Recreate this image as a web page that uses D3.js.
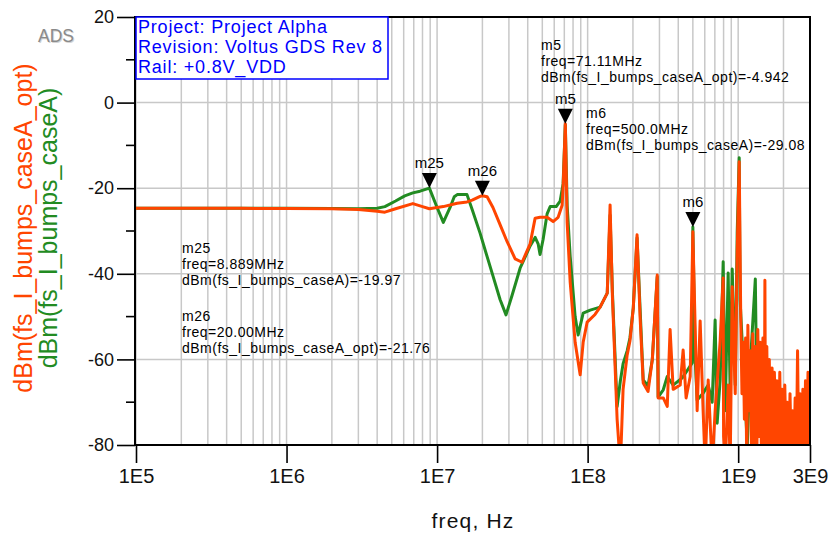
<!DOCTYPE html>
<html>
<head>
<meta charset="utf-8">
<script src="https://cdn.jsdelivr.net/npm/d3@7"></script>
<style>
  body { margin: 0; background: #fff; }
  text { font-family: "Liberation Sans", Arial, sans-serif; }
</style>
</head>
<body>
<div id="chart"></div>
<script>
// axis ticks
const freqTicks = [1e5, 1e6, 1e7, 1e8, 1e9, 3e9];
const freqTickLabels = ["1E5", "1E6", "1E7", "1E8", "1E9", "3E9"];
const dbTicks = [20, 0, -20, -40, -60, -80];
const dbMinorTicks = [10, -10, -30, -50, -70];

const seriesNames = ["fs_I_bumps_caseA", "fs_I_bumps_caseA_opt"];

// [freq Hz, dBm]
const caseA = [
  [1e5, -24.7], [5e5, -24.7], [1e6, -24.7], [2e6, -24.75], [3e6, -24.8], [4e6, -24.7],
  [4.5e6, -24.3], [5.3e6, -23.0], [6.1e6, -21.8], [6.9e6, -21.1], [7.7e6, -20.7], [8.889e6, -19.97],
  [1.0e7, -24.5], [1.1e7, -28.0], [1.22e7, -24.5], [1.3e7, -22.0], [1.36e7, -21.5], [1.58e7, -21.5],
  [1.71e7, -25], [1.93e7, -30.5], [2.15e7, -36], [2.35e7, -40.5], [2.62e7, -46], [2.87e7, -49.6],
  [3.15e7, -45], [3.56e7, -38.7], [4.15e7, -33.5], [4.48e7, -31.5], [4.69e7, -33], [4.83e7, -35.5],
  [5.06e7, -32], [5.38e7, -26], [5.64e7, -24.3], [6.18e7, -24.3], [6.57e7, -23], [6.87e7, -19],
  [7.11e7, -5.2], [7.31e7, -24], [7.66e7, -36], [8.26e7, -50], [8.65e7, -54.3], [9.34e7, -49.2],
  [1.04e8, -48.5], [1.21e8, -47.8], [1.35e8, -44.5], [1.41e8, -26.3], [1.46e8, -44], [1.57e8, -71],
  [1.65e8, -65], [1.72e8, -61], [1.83e8, -58], [1.91e8, -55], [2.01e8, -48], [2.13e8, -31.6],
  [2.23e8, -48], [2.34e8, -64.8], [2.52e8, -66.2], [2.69e8, -60], [2.9e8, -40.7], [2.94e8, -68.8],
  [3.18e8, -67.1], [3.38e8, -64], [3.7e8, -66], [4.25e8, -64.3], [4.51e8, -63], [4.95e8, -60.8],
  [5.0e8, -29.08], [5.18e8, -60], [5.34e8, -69.5], [5.85e8, -67.9], [6.32e8, -66], [6.72e8, -70],
  [7.03e8, -50.8], [7.25e8, -74.9], [7.59e8, -64.8], [7.95e8, -37.2], [8.2e8, -72], [8.58e8, -39.8],
  [8.85e8, -68], [9.13e8, -38.9], [9.56e8, -66], [9.85e8, -30.5], [1.016e9, -12.9], [1.03e9, -46.1],
  [1.08e9, -60.8], [1.15e9, -80], [1.2e9, -62], [1.3e9, -41.2], [1.34e9, -78], [1.4e9, -60],
  [1.44e9, -80], [1.51e9, -62], [1.56e9, -79], [1.63e9, -66], [1.71e9, -80], [1.82e9, -70],
  [1.9e9, -78], [2.05e9, -72], [2.18e9, -79], [2.32e9, -74], [2.51e9, -79], [2.66e9, -75],
  [2.92e9, -78], [3e9, -70]
];

const caseAOpt = [
  [1e5, -24.7], [5e5, -24.7], [1e6, -24.75], [2e6, -24.8], [3e6, -25.0], [4e6, -25.4],
  [4.5e6, -25.6], [5.3e6, -24.8], [6.9e6, -23.6], [8.0e6, -24.3], [8.889e6, -24.8], [1.1e7, -24.3],
  [1.36e7, -23.5], [1.58e7, -23.2], [1.71e7, -22.8], [1.93e7, -21.9], [2.0e7, -21.76], [2.15e7, -22.0],
  [2.35e7, -24.5], [2.62e7, -28.5], [2.92e7, -32.5], [3.3e7, -36.5], [3.67e7, -37.3], [4.15e7, -33],
  [4.48e7, -27.0], [4.83e7, -26.8], [5.38e7, -26.8], [5.9e7, -27.8], [6.37e7, -26.8], [6.77e7, -24],
  [6.87e7, -20], [7.11e7, -4.942], [7.31e7, -28], [7.66e7, -42], [8.26e7, -56], [8.92e7, -63.6],
  [9.34e7, -56], [9.93e7, -51.3], [1.12e8, -49.5], [1.21e8, -47.8], [1.35e8, -44.5], [1.41e8, -23.9],
  [1.46e8, -45], [1.57e8, -74], [1.65e8, -85], [1.72e8, -67], [1.83e8, -59], [1.91e8, -55.7],
  [2.01e8, -48], [2.13e8, -30.9], [2.23e8, -50], [2.34e8, -65.5], [2.52e8, -67.5], [2.69e8, -60],
  [2.9e8, -40.3], [2.94e8, -69], [3.18e8, -69], [3.38e8, -71], [3.53e8, -53], [3.7e8, -67],
  [4.12e8, -66], [4.31e8, -57.8], [4.51e8, -69], [4.8e8, -64], [5.0e8, -30.2], [5.34e8, -72],
  [5.59e8, -51], [5.85e8, -72], [6.04e8, -85], [6.32e8, -64.8], [6.72e8, -85], [7.03e8, -72],
  [7.59e8, -55.7], [7.95e8, -41], [8.0e8, -78], [8.2e8, -85], [8.58e8, -66], [8.85e8, -85],
  [9.13e8, -43], [9.56e8, -68], [9.85e8, -35], [1.016e9, -13.8], [1.04e9, -50], [1.06e9, -68],
  [1.08e9, -56], [1.10e9, -74], [1.12e9, -55], [1.14e9, -85], [1.16e9, -52], [1.18e9, -72],
  [1.20e9, -58], [1.23e9, -85], [1.25e9, -54], [1.28e9, -80], [1.30e9, -57], [1.33e9, -85],
  [1.35e9, -53], [1.38e9, -78], [1.40e9, -56], [1.43e9, -85], [1.46e9, -55], [1.49e9, -82],
  [1.505e9, -41.5], [1.52e9, -80], [1.55e9, -57], [1.58e9, -85], [1.61e9, -60], [1.64e9, -82],
  [1.68e9, -62], [1.71e9, -85], [1.74e9, -63], [1.78e9, -80], [1.81e9, -65], [1.85e9, -85],
  [1.89e9, -63], [1.92e9, -82], [1.96e9, -67], [2.00e9, -85], [2.04e9, -66], [2.08e9, -80],
  [2.12e9, -70], [2.16e9, -85], [2.21e9, -68], [2.25e9, -82], [2.30e9, -72], [2.34e9, -85],
  [2.39e9, -69], [2.44e9, -80], [2.48e9, -58], [2.53e9, -85], [2.58e9, -68], [2.64e9, -80],
  [2.69e9, -67], [2.74e9, -85], [2.80e9, -65], [2.85e9, -82], [2.91e9, -63], [2.97e9, -85],
  [3e9, -63]
];

// markers: series index into seriesNames
const markerNames = ["m25", "m26", "m5", "m6"];
const markerSeries = [0, 1, 1, 0];
const markerFreqs = [8.889e6, 20.00e6, 71.11e6, 500.0e6];
const markerValues = [-19.97, -21.76, -4.942, -29.08];

const infoLines = ["Project: Project Alpha", "Revision: Voltus GDS Rev 8", "Rail: +0.8V_VDD"];

const orange = "#ff4500", green = "#228b22";
const width = 829, height = 534;
const plot = { left: 136, right: 810, top: 17, bottom: 445 };

const svg = d3.select("#chart")
  .append("svg")
  .attr("width", width)
  .attr("height", height);

const x = d3.scaleLog().domain([1e5, 3e9]).range([plot.left, plot.right]);
const y = d3.scaleLinear().domain([-80, 20]).range([plot.bottom, plot.top]);

// grid
svg.append("g")
  .selectAll("line")
  .data(x.ticks())
  .join("line")
  .attr("x1", d => x(d)).attr("x2", d => x(d))
  .attr("y1", plot.top).attr("y2", plot.bottom)
  .attr("stroke", "#c8c8c8").attr("stroke-width", 1.5);

svg.append("g")
  .selectAll("line")
  .data(dbTicks.slice(1, -1))
  .join("line")
  .attr("x1", plot.left).attr("x2", plot.right)
  .attr("y1", d => y(d)).attr("y2", d => y(d))
  .attr("stroke", "#c8c8c8").attr("stroke-width", 1.5);

// curves
svg.append("clipPath").attr("id", "clip")
  .append("rect")
  .attr("x", plot.left).attr("y", plot.top)
  .attr("width", plot.right - plot.left).attr("height", plot.bottom - plot.top);

const line = d3.line().x(d => x(d[0])).y(d => y(d[1]));

const curves = svg.append("g").attr("clip-path", "url(#clip)");
curves.append("path")
  .datum(caseA)
  .attr("d", line)
  .attr("fill", "none").attr("stroke", green)
  .attr("stroke-width", 3).attr("stroke-linejoin", "round");
curves.append("path")
  .datum(caseAOpt)
  .attr("d", line)
  .attr("fill", "none").attr("stroke", orange)
  .attr("stroke-width", 3).attr("stroke-linejoin", "round");

// axes
const xAxis = svg.append("g")
  .attr("transform", `translate(0,${plot.bottom})`)
  .call(d3.axisBottom(x).tickValues(freqTicks)
    .tickFormat((d, i) => freqTickLabels[i]).tickSize(18).tickPadding(6));
xAxis.select(".domain").remove();
xAxis.selectAll("line").attr("stroke", "#000").attr("stroke-width", 1.6);
xAxis.selectAll("text").attr("font-size", 20).attr("fill", "#111")
  .style("font-family", "Liberation Sans, Arial, sans-serif");

const yAxis = svg.append("g")
  .attr("transform", `translate(${plot.left - 1},0)`)
  .call(d3.axisLeft(y).tickValues(dbTicks)
    .tickFormat(d => String(d)).tickSize(18).tickPadding(3));
yAxis.select(".domain").remove();
yAxis.selectAll("line").attr("stroke", "#000").attr("stroke-width", 1.6);
yAxis.selectAll("text").attr("font-size", 18).attr("fill", "#111")
  .style("font-family", "Liberation Sans, Arial, sans-serif");

svg.append("g")
  .selectAll("line")
  .data(dbMinorTicks)
  .join("line")
  .attr("x1", plot.left - 10).attr("x2", plot.left)
  .attr("y1", d => y(d)).attr("y2", d => y(d))
  .attr("stroke", "#000").attr("stroke-width", 1.6);

// frame
svg.append("rect")
  .attr("x", plot.left - 1).attr("y", plot.top)
  .attr("width", plot.right - plot.left + 1).attr("height", plot.bottom - plot.top)
  .attr("fill", "none").attr("stroke", "#000").attr("stroke-width", 2);

// axis titles
svg.append("text")
  .attr("x", 473).attr("y", 528)
  .attr("text-anchor", "middle")
  .attr("font-size", 21).attr("letter-spacing", 1.2).attr("fill", "#111")
  .text("freq, Hz");

[[orange, 1, 32], [green, 0, 57]].forEach(([c, s, bx]) => {
  svg.append("text")
    .attr("transform", `translate(${bx},228) rotate(-90)`)
    .attr("text-anchor", "middle")
    .attr("font-size", 25).attr("fill", c)
    .text(`dBm(${seriesNames[s]})`);
});

// ADS logo
svg.append("text").attr("x", 39).attr("y", 43)
  .attr("font-size", 19).attr("fill", "#d4d4d4")
  .attr("textLength", 36).attr("lengthAdjust", "spacingAndGlyphs").text("ADS");
svg.append("text").attr("x", 38).attr("y", 42)
  .attr("font-size", 19).attr("fill", "#8a8a8a")
  .attr("textLength", 36).attr("lengthAdjust", "spacingAndGlyphs").text("ADS");

// info box
svg.append("rect")
  .attr("x", plot.left).attr("y", plot.top)
  .attr("width", 252).attr("height", 62)
  .attr("fill", "#fff").attr("stroke", "#0000ff").attr("stroke-width", 1.5);
svg.append("g")
  .selectAll("text")
  .data(infoLines)
  .join("text")
  .attr("x", plot.left + 2)
  .attr("y", (d, i) => 33 + i * 20)
  .attr("font-size", 18).attr("letter-spacing", 0.8)
  .attr("fill", "#0000ff")
  .text(d => d);

// markers
const markerG = svg.append("g");
markerNames.forEach((name, i) => {
  const mx = x(markerFreqs[i]), my = y(markerValues[i]);
  markerG.append("path")
    .attr("d", `M${mx},${my} L${mx - 7.5},${my - 15} L${mx + 7.5},${my - 15} Z`)
    .attr("fill", "#000");
  markerG.append("text")
    .attr("x", mx).attr("y", my - 20)
    .attr("text-anchor", "middle")
    .attr("font-size", 15).attr("fill", "#000")
    .text(name);
});

// marker readouts (block anchor positions)
const readoutPos = { m25: [182, 253], m26: [182, 321], m5: [541, 50], m6: [586, 118] };
markerNames.forEach((name, i) => {
  const [tx, ty] = readoutPos[name];
  const lines = [
    name,
    "freq=" + (markerFreqs[i] / 1e6).toPrecision(4) + "MHz",
    "dBm(" + seriesNames[markerSeries[i]] + ")=" + markerValues[i].toPrecision(4)
  ];
  svg.append("g")
    .selectAll("text")
    .data(lines)
    .join("text")
    .attr("x", tx)
    .attr("y", (d, k) => ty + k * 16)
    .attr("font-size", 14).attr("letter-spacing", 0.5).attr("fill", "#000")
    .text(d => d);
});
</script>
</body>
</html>
